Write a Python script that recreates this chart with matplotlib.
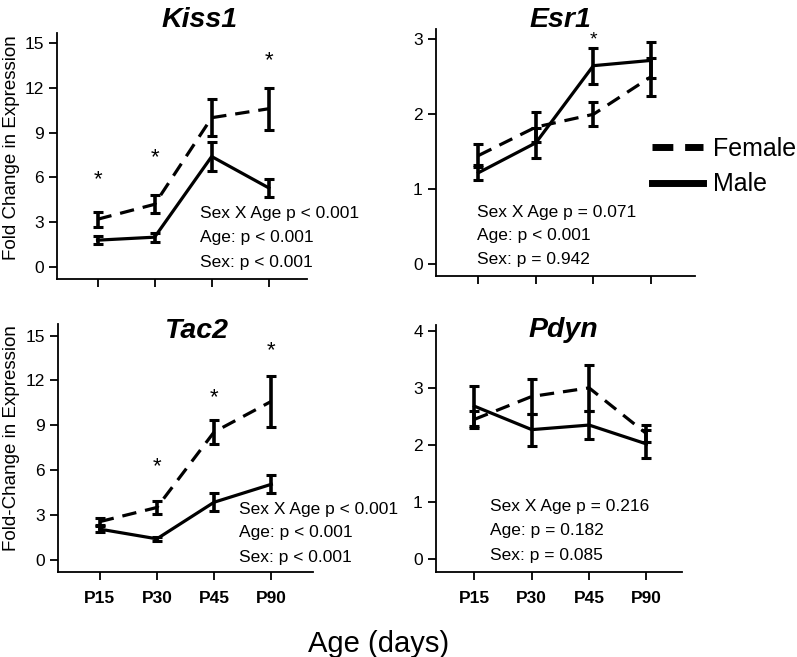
import numpy as np
import matplotlib
matplotlib.use("Agg")
import matplotlib.pyplot as plt
from matplotlib.lines import Line2D

plt.rcParams['font.family'] = ['Liberation Sans', 'DejaVu Sans']

ages = ["P15", "P30", "P45", "P90"]

#Kiss1
kiss1_f = [3.2, 4.2, 10.0, 10.6]
kiss1_f_err = [0.5, 0.6, 1.25, 1.4]
kiss1_m = [1.8, 2.0, 7.4, 5.3]
kiss1_m_err = [0.25, 0.3, 1.0, 0.6]
kiss1_star = [5.85, 7.3, np.nan, 13.8]
kiss1_stats = ["Sex X Age p < 0.001", "Age: p < 0.001", "Sex: p < 0.001"]

#Esr1
esr1_f = [1.45, 1.83, 2.0, 2.5]
esr1_f_err = [0.15, 0.2, 0.16, 0.25]
esr1_m = [1.22, 1.62, 2.65, 2.72]
esr1_m_err = [0.1, 0.2, 0.24, 0.24]
esr1_star = [np.nan, np.nan, 3.0, np.nan]
esr1_stats = ["Sex X Age p = 0.071", "Age: p < 0.001", "Sex: p = 0.942"]

#Tac2
tac2_f = [2.55, 3.5, 8.55, 10.6]
tac2_f_err = [0.25, 0.45, 0.8, 1.7]
tac2_m = [2.05, 1.4, 3.85, 5.05]
tac2_m_err = [0.2, 0.15, 0.6, 0.6]
tac2_star = [np.nan, 6.24, 10.86, 14.0]
tac2_stats = ["Sex X Age p < 0.001", "Age: p < 0.001", "Sex: p < 0.001"]

#Pdyn
pdyn_f = [2.45, 2.85, 3.0, 2.2]
pdyn_f_err = [0.15, 0.3, 0.4, 0.15]
pdyn_m = [2.68, 2.27, 2.35, 2.02]
pdyn_m_err = [0.35, 0.28, 0.25, 0.24]
pdyn_star = [np.nan, np.nan, np.nan, np.nan]
pdyn_stats = ["Sex X Age p = 0.216", "Age: p = 0.182", "Sex: p = 0.085"]

W, H = 797, 657
fig = plt.figure(figsize=(W / 100, H / 100), dpi=100)

def px_axes(left, top, right, bottom):
    return fig.add_axes([left / W, 1 - bottom / H, (right - left) / W, (bottom - top) / H])

x = np.arange(len(ages))

def panel(ax, fem, fem_err, male, male_err, stars, stats, ylim, xlim, yticks,
          stat_x, stat_y, star_size, show_xlabels):
    ax.errorbar(x, fem, yerr=fem_err, color="black", lw=2.3, dashes=(4.5, 2.8),
                elinewidth=2.6, capsize=3.5, capthick=2.2)
    ax.errorbar(x, male, yerr=male_err, color="black", lw=2.3, ls="-",
                elinewidth=2.6, capsize=3.5, capthick=2.2)
    for xi, s in zip(x, stars):
        if not np.isnan(s):
            ax.text(xi, s, "*", ha="center", va="center", fontsize=star_size)
    for txt, yy in zip(stats, stat_y):
        ax.text(stat_x, yy, txt, transform=ax.transAxes, ha="left", va="center", fontsize=12.5)
    ax.set_xlim(*xlim)
    ax.set_ylim(*ylim)
    ax.set_yticks(yticks)
    ax.set_xticks(x)
    if show_xlabels:
        ax.set_xticklabels(ages, fontweight="bold", fontsize=15)
    else:
        ax.set_xticklabels([])
    ax.spines["top"].set_visible(False)
    ax.spines["right"].set_visible(False)
    for sp in ["left", "bottom"]:
        ax.spines[sp].set_linewidth(1.3)
    ax.tick_params(axis="both", direction="out", length=6, width=1.3, labelsize=12.5)
    ax.tick_params(axis="x", pad=8)

ax1 = px_axes(57, 33, 307, 279)
panel(ax1, kiss1_f, kiss1_f_err, kiss1_m, kiss1_m_err, kiss1_star, kiss1_stats,
      (-0.8, 15.67), (-0.71, 3.67), [0, 3, 6, 9, 12, 15], 0.573, [0.265, 0.168, 0.067], 16, False)

ax2 = px_axes(436, 29, 695, 276)
panel(ax2, esr1_f, esr1_f_err, esr1_m, esr1_m_err, esr1_star, esr1_stats,
      (-0.16, 3.14), (-0.74, 3.77), [0, 1, 2, 3], 0.16, [0.257, 0.162, 0.065], 14, False)

ax3 = px_axes(58, 324, 313, 572)
panel(ax3, tac2_f, tac2_f_err, tac2_m, tac2_m_err, tac2_star, tac2_stats,
      (-0.82, 15.78), (-0.73, 3.73), [0, 3, 6, 9, 12, 15], 0.709, [0.251, 0.159, 0.060], 16, True)

ax4 = px_axes(436, 325, 682, 572)
panel(ax4, pdyn_f, pdyn_f_err, pdyn_m, pdyn_m_err, pdyn_star, pdyn_stats,
      (-0.22, 4.1), (-0.67, 3.62), [0, 1, 2, 3, 4], 0.221, [0.266, 0.169, 0.068], 16, True)

#titles
for name, px, py in [("Kiss1", 200, 27.3), ("Esr1", 560, 26.7), ("Tac2", 197, 338.3), ("Pdyn", 563, 336.7)]:
    fig.text(px / W, 1 - py / H, name, ha="center", va="baseline", fontsize=20.5,
             fontweight="bold", fontstyle="italic")

fig.text(12 / W, 1 - 148 / H, "Fold Change in Expression", rotation=90, ha="center", va="center", fontsize=13.5)
fig.text(12 / W, 1 - 438 / H, "Fold-Change in Expression", rotation=90, ha="center", va="center", fontsize=13.5)
fig.text(379 / W, 1 - 651.7 / H, "Age (days)", ha="center", va="baseline", fontsize=21)

handles = [Line2D([], [], color="black", lw=5, dashes=(3, 1.7)),
           Line2D([], [], color="black", lw=5)]
fig.legend(handles, ["Female", "Male"], loc="center left", bbox_to_anchor=(652 / W, 1 - 166.7 / H),
           frameon=False, fontsize=18, handlelength=2.05, handletextpad=0.4,
           borderpad=0, borderaxespad=0, labelspacing=0.45)

fig.savefig("out.png", dpi=100)
